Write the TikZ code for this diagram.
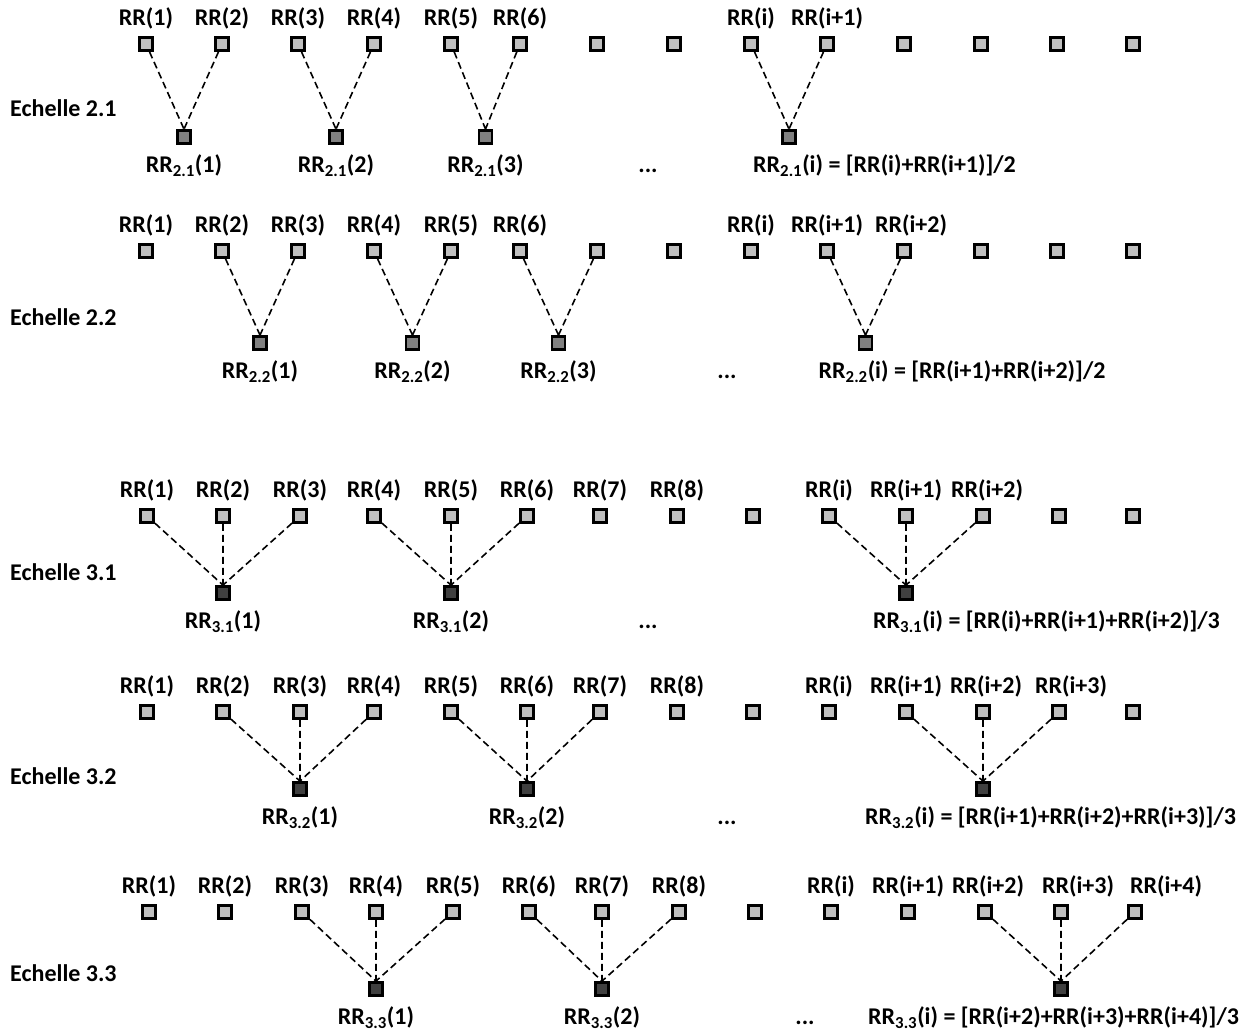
\documentclass[tikz,border=0pt]{standalone}
\usepackage{fontspec}
\setmainfont{Carlito}
\usetikzlibrary{positioning,calc}

\begin{document}
\begin{tikzpicture}[x=1pt, y=-1pt, font=\bfseries\fontsize{24}{28}\selectfont]
    % Styles
    \tikzstyle{rr} = [rectangle, draw, line width=2.8pt, fill=black!25, minimum size=13pt, inner sep=0pt]
    \tikzstyle{moy2} = [rr, fill=black!50]
    \tikzstyle{moy3} = [rr, fill=black!75]
    \tikzstyle{lbl} = [inner sep=0pt]
    \tikzstyle{dashline} = [draw, line width=1.6pt, dash pattern=on 7pt off 4pt]
    \def\colsA{146,222,298,374,451,520,597,674,751,827,904,981,1057,1133}
    \def\colsB{147,223,300,374,451,527,600,677,753,829,906,983,1059,1133}

    \useasboundingbox (0,0) rectangle (1252,1035);

    % Echelle 2.1
    \node[lbl, anchor=west] (e21) at (10,108) {Echelle 2.1};
    \foreach \x [count=\k] in \colsA
        \node[rr] (a\k) at (\x,44) {};
    \foreach \k/\t in {1/1,2/2,3/3,4/4,5/5,6/6,9/i,10/i+1}
        \node[lbl, above=7pt of a\k] {RR(\t)};
    \foreach \p/\q/\n in {1/2/1,3/4/2,5/6/3,9/10/i} {
        \node[moy2] (am\n) at ($(a\p)!0.5!(a\q)+(0,93)$) {};
        \path[dashline] (a\p) -- (am\n.north) (a\q) -- (am\n.north);
    }
    \foreach \n in {1,2,3}
        \node[lbl, below=10pt of am\n] {RR\textsubscript{2.1}(\n)};
    \node[lbl, anchor=north west] (fa) at ([xshift=-36pt, yshift=-10pt]ami.south) {RR\textsubscript{2.1}(i) = [RR(i)+RR(i+1)]/2};
    \node[lbl, anchor=base] (da) at (648,0 |- fa.base) {...};

    % Echelle 2.2
    \node[lbl, anchor=west] (e22) at (10,317) {Echelle 2.2};
    \foreach \x [count=\k] in \colsA
        \node[rr] (b\k) at (\x,251) {};
    \foreach \k/\t/\s in {1/1/0,2/2/0,3/3/0,4/4/0,5/5/0,6/6/0,9/i/0,10/i+1/0,11/i+2/7}
        \node[lbl, above=7pt of b\k, xshift=\s pt] {RR(\t)};
    \foreach \p/\q/\n in {2/3/1,4/5/2,6/7/3,10/11/i} {
        \node[moy2] (bm\n) at ($(b\p)!0.5!(b\q)+(0,92)$) {};
        \path[dashline] (b\p) -- (bm\n.north) (b\q) -- (bm\n.north);
    }
    \foreach \n in {1,2,3}
        \node[lbl, below=10pt of bm\n] {RR\textsubscript{2.2}(\n)};
    \node[lbl, anchor=north west] (fb) at ([xshift=-47pt, yshift=-10pt]bmi.south) {RR\textsubscript{2.2}(i) = [RR(i+1)+RR(i+2)]/2};
    \node[lbl, anchor=base] (db) at (727,0 |- fb.base) {...};

    % Echelle 3.1
    \node[lbl, anchor=west] (e31) at (10,572) {Echelle 3.1};
    \foreach \x [count=\k] in \colsB
        \node[rr] (c\k) at (\x,516) {};
    \foreach \k/\t/\s in {1/1/0,2/2/0,3/3/0,4/4/0,5/5/0,6/6/0,7/7/0,8/8/0,10/i/0,11/i+1/0,12/i+2/4}
        \node[lbl, above=7pt of c\k, xshift=\s pt] {RR(\t)};
    \foreach \l/\m/\r/\n in {1/2/3/1,4/5/6/2,10/11/12/i} {
        \node[moy3] (cm\n) at ($(c\m)+(0,77)$) {};
        \path[dashline] (c\l) -- (cm\n.north) (c\m) -- (cm\n.north) (c\r) -- (cm\n.north);
    }
    \foreach \n in {1,2}
        \node[lbl, below=10pt of cm\n] {RR\textsubscript{3.1}(\n)};
    \node[lbl, anchor=north west] (fc) at ([xshift=-33pt, yshift=-10pt]cmi.south) {RR\textsubscript{3.1}(i) = [RR(i)+RR(i+1)+RR(i+2)]/3};
    \node[lbl, anchor=base] (dc) at (648,0 |- fc.base) {...};

    % Echelle 3.2
    \node[lbl, anchor=west] (e32) at (10,776) {Echelle 3.2};
    \foreach \x [count=\k] in \colsB
        \node[rr] (d\k) at (\x,712) {};
    \foreach \k/\t/\s in {1/1/0,2/2/0,3/3/0,4/4/0,5/5/0,6/6/0,7/7/0,8/8/0,10/i/0,11/i+1/0,12/i+2/3,13/i+3/12}
        \node[lbl, above=7pt of d\k, xshift=\s pt] {RR(\t)};
    \foreach \l/\m/\r/\n in {2/3/4/1,5/6/7/2,11/12/13/i} {
        \node[moy3] (dm\n) at ($(d\m)+(0,77)$) {};
        \path[dashline] (d\l) -- (dm\n.north) (d\m) -- (dm\n.north) (d\r) -- (dm\n.north);
    }
    \foreach \n in {1,2}
        \node[lbl, below=10pt of dm\n] {RR\textsubscript{3.2}(\n)};
    \node[lbl, anchor=north west] (fd) at ([xshift=-118pt, yshift=-10pt]dmi.south) {RR\textsubscript{3.2}(i) = [RR(i+1)+RR(i+2)+RR(i+3)]/3};
    \node[lbl, anchor=base] (dd) at (727,0 |- fd.base) {...};

    % Echelle 3.3
    \node[lbl, anchor=west] (e33) at (10,973) {Echelle 3.3};
    \foreach \x [count=\k] in \colsB
        \node[rr] (e\k) at (\x+2,912) {};
    \foreach \k/\t/\s in {1/1/0,2/2/0,3/3/0,4/4/0,5/5/0,6/6/0,7/7/0,8/8/0,10/i/0,11/i+1/0,12/i+2/3,13/i+3/17,14/i+4/31}
        \node[lbl, above=7pt of e\k, xshift=\s pt] {RR(\t)};
    \foreach \l/\m/\r/\n in {3/4/5/1,6/7/8/2,12/13/14/i} {
        \node[moy3] (em\n) at ($(e\m)+(0,77)$) {};
        \path[dashline] (e\l) -- (em\n.north) (e\m) -- (em\n.north) (e\r) -- (em\n.north);
    }
    \foreach \n in {1,2}
        \node[lbl, below=10pt of em\n] {RR\textsubscript{3.3}(\n)};
    \node[lbl, anchor=north west] (fe) at ([xshift=-193pt, yshift=-10pt]emi.south) {RR\textsubscript{3.3}(i) = [RR(i+2)+RR(i+3)+RR(i+4)]/3};
    \node[lbl, anchor=base] (de) at (805,0 |- fe.base) {...};
\end{tikzpicture}
\end{document}
